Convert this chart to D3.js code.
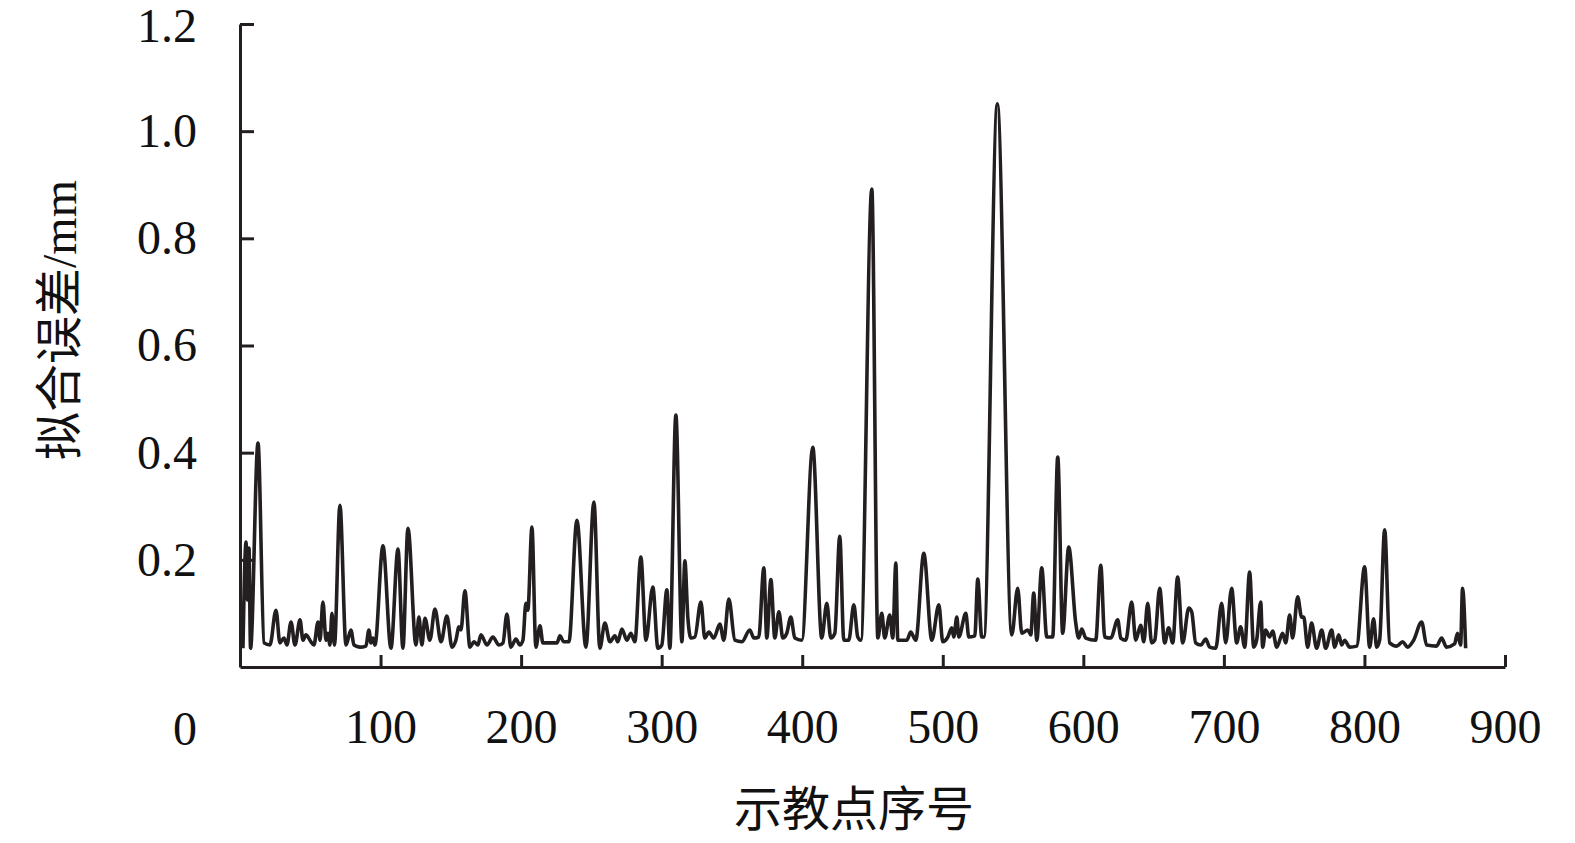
<!DOCTYPE html>
<html>
<head>
<meta charset="utf-8">
<script src="https://cdn.jsdelivr.net/npm/d3@7"></script>
<style>
  body { margin: 0; background: #fff; }
</style>
</head>
<body>
<script>
// teaching point number (x) and fitting error in mm (y)
var pointIndex = [
  2.1, 4.3, 5.3, 6.4, 7.5, 12.8, 17.1, 21.3, 25.6, 28.4, 31.3, 33.4, 36.3, 39.1, 42.7, 44.8,
  46.9, 50.5, 52.6, 55.5, 56.9, 59.0, 61.2, 62.6, 64.0, 65.4, 67.2, 71.1, 75.4, 78.9, 81.1,
  85.3, 89.6, 91.7, 93.2, 94.6, 96.0, 101.7, 107.4, 112.4, 115.9, 119.5, 125.2, 127.3, 129.4,
  131.6, 135.1, 138.7, 143.0, 147.2, 150.8, 153.6, 155.8, 157.2, 160.0, 163.6, 166.4, 169.3,
  171.4, 175.7, 179.9, 184.2, 187.1, 189.9, 192.7, 196.3, 199.1, 201.3, 203.4, 204.8, 207.7,
  210.5, 213.4, 215.5, 225.5, 227.6, 230.4, 234.0, 239.7, 246.1, 251.8, 256.0, 259.6, 263.2,
  266.7, 268.8, 271.7, 275.2, 278.1, 280.9, 285.2, 288.8, 293.7, 297.3, 300.1, 303.7, 305.8,
  310.1, 314.4, 316.5, 318.6, 320.8, 323.6, 327.9, 330.7, 333.6, 337.1, 341.4, 344.2, 347.8,
  352.1, 357.0, 362.7, 365.6, 369.1, 372.7, 374.8, 377.7, 380.5, 383.4, 386.2, 389.0, 391.9,
  394.7, 399.7, 407.5, 413.9, 417.5, 420.3, 423.2, 426.7, 429.6, 433.1, 436.7, 439.5, 441.7,
  449.5, 453.8, 456.6, 458.7, 462.3, 464.4, 466.6, 468.0, 474.4, 477.2, 480.8, 486.5, 492.2,
  497.2, 500.0, 503.6, 506.4, 507.8, 510.0, 511.4, 516.4, 518.5, 522.8, 524.9, 527.7, 529.2,
  538.8, 549.1, 553.3, 556.2, 560.5, 562.6, 564.7, 566.9, 570.4, 574.0, 578.2, 581.8, 585.3,
  589.6, 594.6, 596.7, 598.9, 601.7, 608.8, 612.4, 615.2, 619.5, 624.5, 626.6, 630.2, 634.4,
  637.3, 640.8, 643.0, 645.8, 648.6, 650.8, 654.3, 657.9, 660.7, 663.6, 667.1, 670.7, 675.0,
  677.1, 679.9, 683.5, 687.1, 689.9, 694.2, 698.4, 701.3, 705.5, 709.1, 711.9, 714.8, 718.3,
  721.2, 723.3, 726.2, 727.6, 729.7, 732.6, 734.7, 737.6, 741.8, 744.0, 746.8, 748.9, 752.5,
  755.3, 756.8, 759.6, 762.4, 766.0, 769.6, 772.4, 776.7, 778.8, 781.7, 783.8, 785.9, 789.5,
  794.5, 800.1, 803.7, 806.5, 808.7, 810.8, 814.4, 817.9, 822.9, 827.2, 830.7, 835.0, 840.7,
  844.2, 851.3, 854.9, 858.4, 864.1, 866.2, 868.4, 869.8, 872.0
];
var fitError = [
  0.035, 0.233, 0.125, 0.222, 0.035, 0.418, 0.045, 0.041, 0.106, 0.045, 0.054, 0.041, 0.084, 0.041, 0.088, 0.05,
  0.06, 0.047, 0.041, 0.084, 0.05, 0.121, 0.05, 0.063, 0.041, 0.10, 0.041, 0.302, 0.041, 0.069, 0.041,
  0.037, 0.039, 0.069, 0.045, 0.054, 0.041, 0.226, 0.035, 0.22, 0.035, 0.259, 0.041, 0.093, 0.041,
  0.091, 0.05, 0.108, 0.047, 0.095, 0.037, 0.05, 0.075, 0.069, 0.142, 0.037, 0.047, 0.041,
  0.06, 0.041, 0.056, 0.041, 0.045, 0.099, 0.037, 0.052, 0.041, 0.05, 0.119, 0.106, 0.261,
  0.037, 0.077, 0.045, 0.045, 0.058, 0.047, 0.047, 0.274, 0.037, 0.308, 0.035, 0.082, 0.047,
  0.058, 0.047, 0.071, 0.05, 0.063, 0.047, 0.205, 0.05, 0.149, 0.035, 0.041, 0.144, 0.035,
  0.47, 0.047, 0.198, 0.093, 0.054, 0.056, 0.121, 0.054, 0.065, 0.054, 0.08, 0.05, 0.127,
  0.05, 0.047, 0.069, 0.054, 0.056, 0.185, 0.054, 0.163, 0.054, 0.103, 0.054, 0.063, 0.093,
  0.054, 0.05, 0.41, 0.054, 0.119, 0.054, 0.063, 0.244, 0.05, 0.05, 0.116, 0.056, 0.05,
  0.892, 0.054, 0.10, 0.054, 0.097, 0.054, 0.194, 0.05, 0.05, 0.065, 0.05, 0.212, 0.05,
  0.116, 0.047, 0.056, 0.073, 0.056, 0.093, 0.056, 0.10, 0.056, 0.058, 0.164, 0.056, 0.056,
  1.051, 0.06, 0.147, 0.063, 0.069, 0.06, 0.138, 0.05, 0.185, 0.056, 0.056, 0.392, 0.063,
  0.224, 0.082, 0.054, 0.071, 0.054, 0.05, 0.19, 0.056, 0.054, 0.088, 0.054, 0.05, 0.121,
  0.05, 0.078, 0.047, 0.119, 0.045, 0.05, 0.147, 0.045, 0.073, 0.045, 0.168, 0.045, 0.11,
  0.103, 0.045, 0.041, 0.052, 0.037, 0.035, 0.119, 0.045, 0.147, 0.045, 0.075, 0.037, 0.177,
  0.037, 0.05, 0.121, 0.037, 0.069, 0.056, 0.067, 0.037, 0.063, 0.045, 0.097, 0.054, 0.131,
  0.093, 0.093, 0.037, 0.082, 0.035, 0.069, 0.035, 0.069, 0.037, 0.06, 0.041, 0.05, 0.037,
  0.039, 0.187, 0.037, 0.09, 0.037, 0.05, 0.256, 0.045, 0.039, 0.047, 0.037, 0.05, 0.084,
  0.041, 0.039, 0.054, 0.037, 0.043, 0.063, 0.041, 0.147, 0.035
];
var xTicks = [100, 200, 300, 400, 500, 600, 700, 800, 900];
var yTicks = [0.2, 0.4, 0.6, 0.8, 1.0, 1.2];

var w = 1575;
var h = 843;
var ink = "#231f20";
var serif = "'Liberation Serif', 'Times New Roman', serif";

var svg = d3.select("body")
            .append("svg")
            .attr("width", w)
            .attr("height", h);

var x = d3.scaleLinear().domain([0, 900]).range([240, 1505]);
var y = d3.scaleLinear().domain([0, 1.2]).range([667, 24]);

var data = pointIndex.map(function(d, i) {
    return {idx: d, err: fitError[i]};
});

var line = d3.line()
    .x(function(d) { return x(d.idx); })
    .y(function(d) { return y(d.err); })
    .curve(d3.curveMonotoneX);

svg.append("path")
    .datum(data)
    .attr("d", line)
    .attr("fill", "none")
    .attr("stroke", ink)
    .attr("stroke-width", 3.6)
    .attr("stroke-linejoin", "round");

var yAxis = svg.append("g")
    .attr("transform", "translate(240,0)")
    .call(d3.axisLeft(y)
        .tickValues(yTicks)
        .tickFormat(d3.format(".1f"))
        .tickSize(-14)
        .tickSizeOuter(0)
        .tickPadding(43));

var xAxis = svg.append("g")
    .attr("transform", "translate(0," + y(0) + ")")
    .call(d3.axisBottom(x)
        .tickValues(xTicks)
        .tickSize(-12)
        .tickSizeOuter(0)
        .tickPadding(42));

[yAxis, xAxis].forEach(function(g) {
    g.select(".domain").attr("stroke", ink).attr("stroke-width", 3);
    g.selectAll(".tick line").attr("stroke", ink).attr("stroke-width", 3);
    g.selectAll(".tick text")
        .attr("fill", "#111")
        .attr("font-family", serif)
        .attr("font-size", "48px");
});

// the top label sits close to the edge, as in the original
yAxis.selectAll(".tick text")
    .filter(function(d) { return d === 1.2; })
    .attr("dy", "0.36em");

// shared origin label
svg.append("text")
    .attr("x", 185)
    .attr("y", 745)
    .attr("text-anchor", "middle")
    .attr("font-family", serif)
    .attr("font-size", "48px")
    .attr("fill", "#111")
    .text("0");

svg.append("text")
    .attr("x", 854)
    .attr("y", 826)
    .attr("text-anchor", "middle")
    .attr("font-family", "'Noto Sans CJK SC', sans-serif")
    .attr("font-size", "48px")
    .attr("fill", "#111")
    .text("示教点序号");

svg.append("text")
    .attr("transform", "translate(76,320) rotate(-90)")
    .attr("text-anchor", "middle")
    .attr("font-family", serif + ", 'Noto Sans CJK SC'")
    .attr("font-size", "48px")
    .attr("fill", "#111")
    .text("拟合误差/mm");
</script>
</body>
</html>
